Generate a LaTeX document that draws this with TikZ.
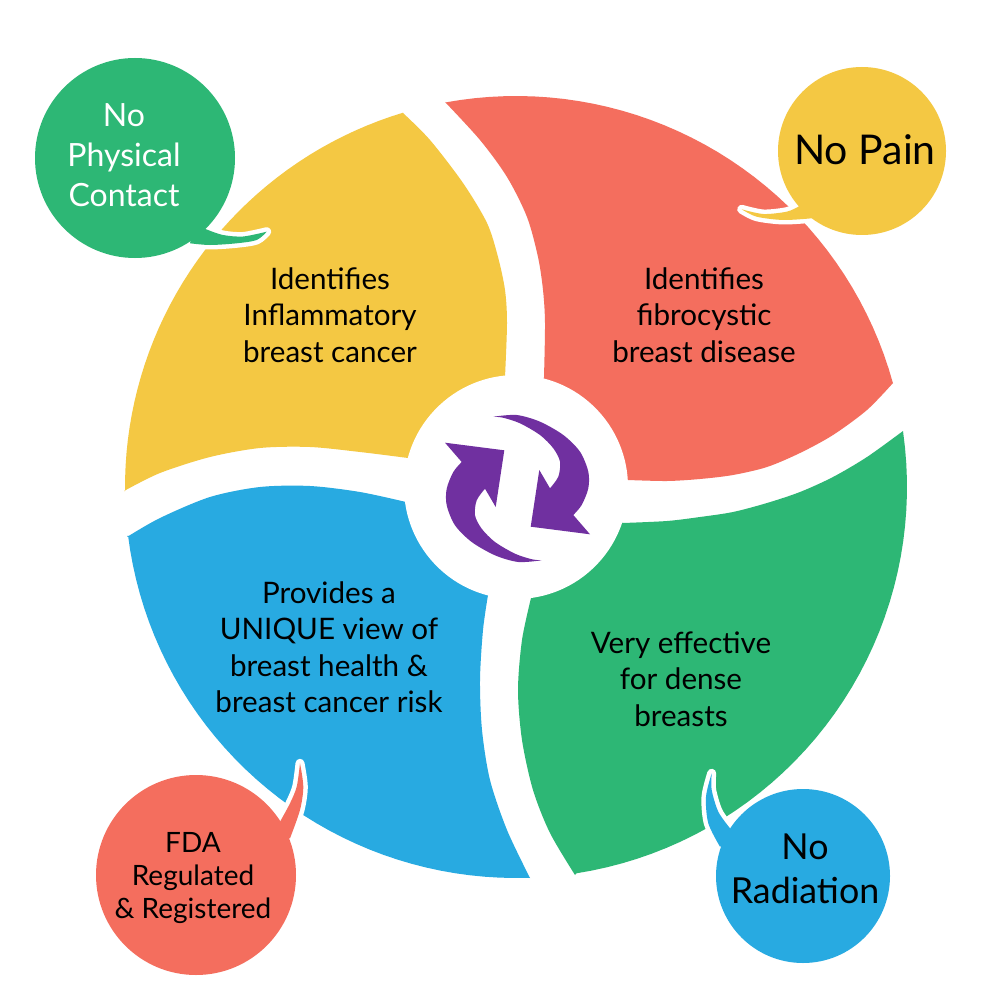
\documentclass[tikz,border=0pt]{standalone}
\usepackage{fontspec}
\setmainfont{Lato}
\definecolor{cyel}{HTML}{F4C843}
\definecolor{cred}{HTML}{F46E5E}
\definecolor{cgrn}{HTML}{2DB775}
\definecolor{cblu}{HTML}{28AAE1}
\definecolor{cpur}{HTML}{7030A0}
\newcommand{\mlines}[1]{\begin{tabular}[t]{@{}c@{}}#1\end{tabular}}
\begin{document}
\begin{tikzpicture}[x=1pt,y=-1pt,
  petaltext/.style={anchor=base, inner sep=0pt, text=black, font=\fontsize{29.6}{36.5}\selectfont},
  bubbletext/.style={anchor=base, inner sep=0pt},
  outline/.style={draw=white, line width=9pt, line join=round},
]
\useasboundingbox (0,0) rectangle (1000,1000);
\fill[white] (0,0) rectangle (1000,1000);

% ---------- petals ----------
\fill[cyel] (516,487) -- (408,458)
  -- plot[smooth] coordinates {(408,458) (360,452) (310,447) (260,448) (210,457) (160,473) (124,491)}
  -- plot[domain=179.4:253.2, samples=40, variable=\t] ({516+391*cos(\t)},{487+391*sin(\t)})
  -- plot[smooth] coordinates {(403,113) (430,140) (463,183) (487,223) (498,257) (505,290) (507,323) (505,377)}
  -- cycle;
\fill[cred] (516,487) -- (544,377)
  -- plot[smooth] coordinates {(544,377) (545,323) (543,290) (538,257) (527,217) (507,177) (480,140) (445,102)}
  -- plot[domain=259.6:344.6, samples=40, variable=\t] ({516+391*cos(\t)},{487+391*sin(\t)})
  -- plot[smooth] coordinates {(893,383) (867,410) (833,435) (800,453) (767,467) (733,475) (700,479) (667,481) (628,480)}
  -- cycle;
\fill[cgrn] (516,487) -- (623,523)
  -- plot[smooth] coordinates {(623,523) (667,521) (700,517) (733,512) (767,503) (800,492) (833,477) (867,457) (903,431)}
  -- plot[domain=352:441.1, samples=40, variable=\t] ({516+391*cos(\t)},{487+391*sin(\t)})
  -- plot[smooth] coordinates {(575,875) (550,833) (533,790) (522,740) (518,690) (522,640) (531,598)}
  -- cycle;
\fill[cblu] (516,487) -- (488,595)
  -- plot[smooth] coordinates {(488,595) (483,630) (480,680) (482,730) (490,780) (507,830) (530,878)}
  -- plot[domain=88.1:172.9, samples=40, variable=\t] ({516+391*cos(\t)},{487+391*sin(\t)})
  -- plot[smooth] coordinates {(127,537) (160,518) (210,497) (260,487) (310,486) (360,492) (406,502)}
  -- cycle;

% ---------- centre ----------
\fill[white] (516,487) circle[radius=112pt];
\foreach \r in {0,180}{
\fill[cpur, rotate around={\r:(517.5,488.5)}] (493.3,416.7)
  -- plot[smooth] coordinates {(493.3,416.7) (516.7,415) (540,421.7) (563.3,435) (580,451.7) (588.3,471.7) (588.3,488.3) (581.7,505) (573.3,515)}
  -- (590,534.3) -- (530.7,526.7) -- (539.3,470)
  -- plot[smooth] coordinates {(550,488.3) (558.3,476.7) (560,461.7) (553.3,448.3) (540,435) (520,423.3) (503,417.7) (493.3,416.7)}
  -- cycle;
}

% ---------- bubbles: white outlines ----------
\path[outline] (135,158) circle[radius=100pt];
\path[outline] (195,225)
  -- plot[smooth] coordinates {(208,230) (223,235) (243,236.5) (266.7,231.7)}
  -- plot[smooth] coordinates {(266.7,231.7) (256.7,240) (236.7,243.3) (210,245) (190,243.3)} -- cycle;
\path[outline] (862,151) circle[radius=84pt];
\path[outline] (805,200)
  -- plot[smooth] coordinates {(798.3,206.7) (786.7,211.7) (763.3,214) (741.7,209.3)}
  -- plot[smooth] coordinates {(741.7,209.3) (756.7,216.7) (783.3,220) (811.7,218.3)} -- cycle;
\path[outline] (803,876) circle[radius=87pt];
\path[outline] (735,840)
  -- plot[smooth] coordinates {(730,828.3) (718.3,811.7) (711.7,790) (711.7,773.3)}
  -- plot[smooth] coordinates {(711.7,773.3) (706,796.7) (708.3,823.3) (720,846.7)} -- cycle;
\path[outline] (196,875) circle[radius=100pt];
\path[outline] (275,840)
  -- plot[smooth] coordinates {(280,821.7) (290,803.3) (296.7,786.7) (300,763.3)}
  -- plot[smooth] coordinates {(300,763.3) (303.3,786.7) (300,810) (290,838.3)} -- cycle;

% ---------- bubbles: fills ----------
\fill[cgrn] (135,158) circle[radius=100pt];
\fill[cgrn] (195,225)
  -- plot[smooth] coordinates {(208,230) (223,235) (243,236.5) (266.7,231.7)}
  -- plot[smooth] coordinates {(266.7,231.7) (256.7,240) (236.7,243.3) (210,245) (190,243.3)} -- cycle;
\fill[cyel] (862,151) circle[radius=84pt];
\fill[cyel] (805,200)
  -- plot[smooth] coordinates {(798.3,206.7) (786.7,211.7) (763.3,214) (741.7,209.3)}
  -- plot[smooth] coordinates {(741.7,209.3) (756.7,216.7) (783.3,220) (811.7,218.3)} -- cycle;
\fill[cblu] (803,876) circle[radius=87pt];
\fill[cblu] (735,840)
  -- plot[smooth] coordinates {(730,828.3) (718.3,811.7) (711.7,790) (711.7,773.3)}
  -- plot[smooth] coordinates {(711.7,773.3) (706,796.7) (708.3,823.3) (720,846.7)} -- cycle;
\fill[cred] (196,875) circle[radius=100pt];
\fill[cred] (275,840)
  -- plot[smooth] coordinates {(280,821.7) (290,803.3) (296.7,786.7) (300,763.3)}
  -- plot[smooth] coordinates {(300,763.3) (303.3,786.7) (300,810) (290,838.3)} -- cycle;

% ---------- texts ----------
\node[petaltext] (tinfl) at (330,289) {\mlines{Identifies\\Inflammatory\\breast cancer}};
\node[petaltext] (tfibro) at (704,289) {\mlines{Identifies\\fibrocystic\\breast disease}};
\node[petaltext] (tunique) at (329,603) {\mlines{Provides a\\UNIQUE view of\\breast health \&\\breast cancer risk}};
\node[petaltext] (tdense) at (681,653) {\mlines{Very effective\\for dense\\breasts}};

\node[bubbletext, text=white, font=\fontsize{32}{40}\selectfont] (tcontact) at (124,127) {\mlines{No\\Physical\\Contact}};
\node[bubbletext, text=black, font=\fontsize{41}{48}\selectfont] (tpain) at (865,165) {No Pain};
\node[bubbletext, text=black, font=\fontsize{35.8}{44}\selectfont] (trad) at (805,859) {\mlines{No\\Radiation}};
\node[bubbletext, text=black, font=\fontsize{28}{33}\selectfont] (tfda) at (193,852) {\mlines{FDA\\Regulated\\\& Registered}};
\end{tikzpicture}
\end{document}
